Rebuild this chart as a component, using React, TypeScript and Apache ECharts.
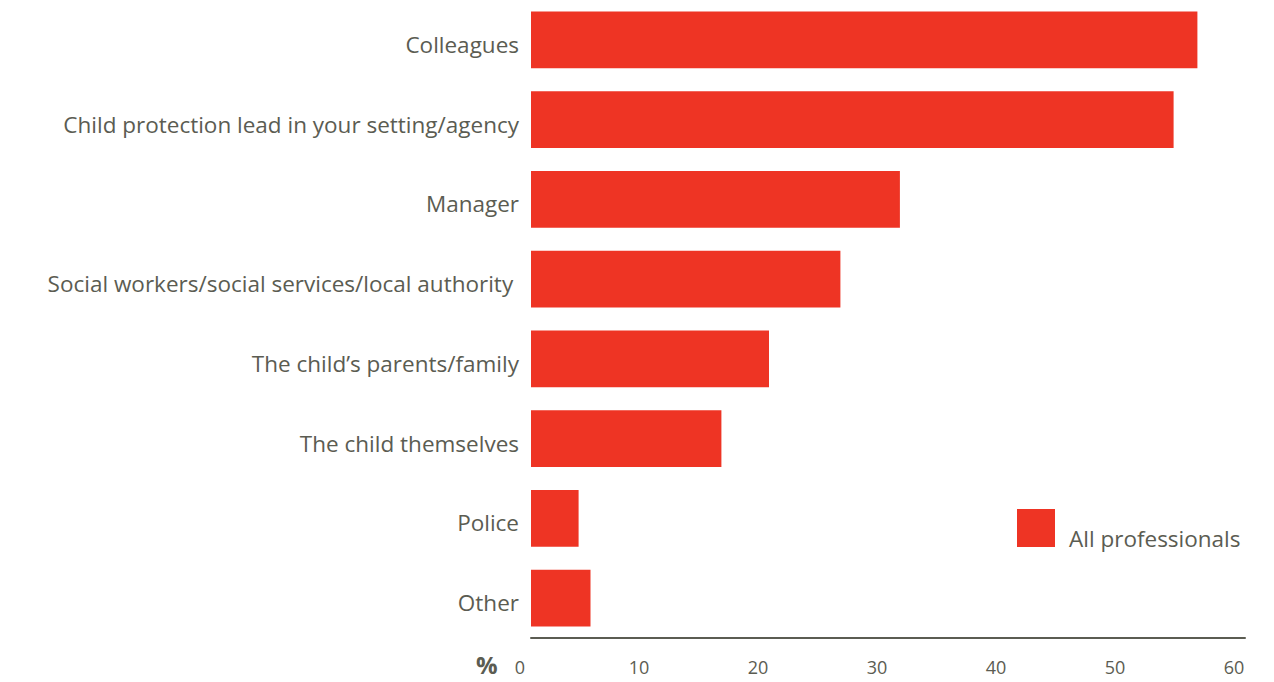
import React, { useEffect, useRef } from "react";
import * as echarts from "echarts";

const categories = [
  "Colleagues",
  "Child protection lead in your setting/agency",
  "Manager",
  "Social workers/social services/local authority ",
  "The child\u2019s parents/family",
  "The child themselves",
  "Police",
  "Other",
];
const values = [56, 54, 31, 26, 20, 16, 4, 5];
const seriesName = "All professionals";
const axisMin = 0;
const axisMax = 60;
const axisInterval = 10;

const TEXT = "#5b5c52";
const RED = "#ee3424";
const FONT = "Open Sans";

export default function App() {
  const ref = useRef<HTMLDivElement>(null);
  useEffect(() => {
    if (!ref.current) return;
    const chart = echarts.init(ref.current, undefined, { renderer: "svg" });
    chart.setOption({
      animation: false,
      grid: { left: 531, right: 29, top: 0, bottom: 44, containLabel: false },
      legend: {
        left: 1017,
        top: 509,
        padding: 0,
        icon: "rect",
        itemWidth: 38,
        itemHeight: 38,
        formatter: () => "",
        data: [seriesName],
      },
      xAxis: {
        type: "value",
        min: axisMin,
        max: axisMax,
        interval: axisInterval,
        splitLine: { show: false },
        axisTick: { show: false },
        axisLine: { show: true, lineStyle: { color: TEXT, width: 2 } },
        axisLabel: {
          color: TEXT,
          fontFamily: FONT,
          fontSize: 18,
          margin: 20,
          padding: [0, 22, 0, 0],
        },
      },
      yAxis: {
        type: "category",
        data: categories,
        inverse: true,
        axisLine: { show: false },
        axisTick: { show: false },
        axisLabel: {
          color: TEXT,
          fontFamily: FONT,
          fontSize: 22.5,
          margin: 12,
          verticalAlign: "top",
          lineHeight: 9,
        },
      },
      graphic: [
        {
          type: "text",
          left: 476,
          top: 652,
          style: {
            text: "%",
            fill: TEXT,
            font: `bold 24px ${FONT}`,
          },
        },
        {
          type: "text",
          left: 1069,
          top: 527,
          style: {
            text: seriesName,
            fill: TEXT,
            font: `22.5px ${FONT}`,
          },
        },
      ],
      series: [
        {
          name: seriesName,
          type: "bar",
          data: values,
          barCategoryGap: "28.6%",
          itemStyle: { color: RED },
        },
      ],
    });
    return () => chart.dispose();
  }, []);
  return <div ref={ref} style={{ width: 1274, height: 682, margin: -8 }} />;
}
